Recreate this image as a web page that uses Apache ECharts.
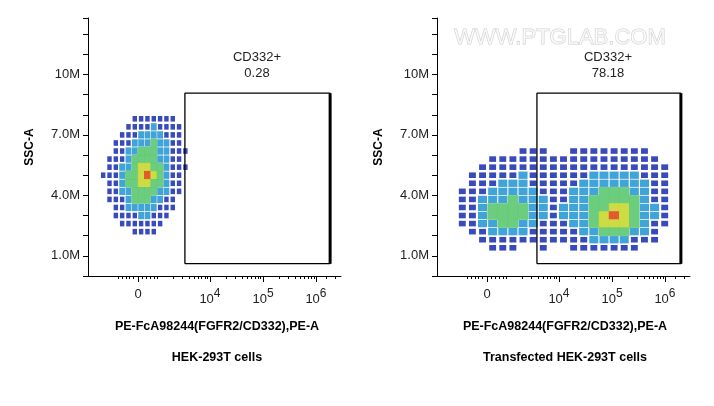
<!DOCTYPE html>
<html><head><meta charset="utf-8">
<script src="https://cdn.jsdelivr.net/npm/echarts@6/dist/echarts.min.js"></script>
<style>html,body{margin:0;padding:0;background:#fff}#c{width:714px;height:406px}</style>
</head><body><div id="c"></div>
<script>
// x axis display units: 0..100 ; decade positions
const xTickLabels = ['0', '10{s|4}', '10{s|5}', '10{s|6}'];
const xTickPos = [19.8, 48.2, 69.2, 90.1];
const yTickLabels = {1: '1.0M', 4: '4.0M', 7: '7.0M', 10: '10M'};
const gateLabels = [['CD332+', '0.28'], ['CD332+', '78.18']];
const gateLeft = [[38.3, 0.61], [38.3, 9.07], [95.7, 9.07], [95.7, 0.61], [38.3, 0.61]];
const gateRight = [[39.5, 0.61], [39.5, 9.07], [96.4, 9.07], [96.4, 0.61], [39.5, 0.61]];

// density grid, left panel
const leftCols = [6, 8.5, 11, 13.5, 16, 18.5, 21, 23.5, 26, 28.5, 31, 33.5, 36, 38.5];
const leftRows = [7.8, 7.4, 7.0, 6.6, 6.2, 5.8, 5.4, 5.0, 4.6, 4.2, 3.8, 3.4, 3.0, 2.6, 2.2];
const leftDensity = [
[0,0,0,0,0,1,1,1,1,1,1,1,0,0],
[0,0,0,0,1,1,1,1,2,1,1,1,1,0],
[0,0,0,1,1,1,2,2,2,2,1,1,1,0],
[0,0,1,1,1,2,2,2,3,2,2,1,1,0],
[0,0,1,1,2,2,3,3,3,2,2,1,1,1],
[0,1,1,1,2,3,3,3,3,2,2,1,1,0],
[0,1,1,2,2,3,4,4,3,3,2,1,1,1],
[1,1,1,2,3,3,4,5,4,3,2,1,1,0],
[0,1,1,2,3,3,4,4,3,3,2,1,1,0],
[0,1,1,2,2,3,3,3,3,2,2,1,1,0],
[0,1,1,1,2,3,3,3,2,2,1,1,0,0],
[0,0,1,1,2,2,2,2,2,1,1,1,0,0],
[0,0,1,1,1,1,2,2,1,1,1,0,0,0],
[0,0,0,1,1,1,1,1,1,1,0,0,0,0],
[0,0,0,0,0,1,1,1,1,0,0,0,0,0]];

// density grid, right panel
const rightCols = [10,14,18,22,26,30,34,38,42,46,50,54,58,62,66,70,74,78,82,86,90,94];
const rightRows = [6.2, 5.8, 5.4, 5.0, 4.6, 4.2, 3.8, 3.4, 3.0, 2.6, 2.2, 1.8, 1.4];
const rightDensity = [
[0,0,0,0,0,0,1,1,1,0,0,1,1,1,1,1,1,1,1,0,0,0],
[0,0,0,1,1,1,1,1,1,1,1,1,1,1,1,1,1,1,1,1,0,0],
[0,0,1,1,1,1,1,1,1,1,1,1,1,1,1,1,1,1,1,1,1,0],
[0,1,1,1,1,1,2,1,1,1,1,1,1,2,2,2,2,2,1,1,1,0],
[0,1,1,1,2,2,2,1,1,1,1,1,2,2,2,2,2,2,2,1,1,0],
[1,1,1,2,2,2,2,2,1,1,1,2,2,2,3,3,3,2,2,1,1,0],
[1,1,2,2,2,3,2,2,2,1,1,2,2,3,3,3,3,3,2,1,1,0],
[1,1,2,3,3,3,3,2,2,1,2,2,2,3,3,4,4,3,2,2,1,0],
[1,1,2,3,3,3,3,2,2,1,2,2,2,3,4,5,4,3,2,2,1,0],
[1,1,2,2,3,3,2,2,1,1,1,2,2,3,4,4,4,3,2,1,1,0],
[0,1,1,2,2,2,2,1,1,1,1,1,2,2,3,3,3,2,2,1,0,0],
[0,0,1,1,1,1,1,1,1,1,1,1,1,2,2,2,2,1,1,1,0,0],
[0,0,0,1,1,1,0,0,1,0,0,1,1,1,1,1,1,1,0,0,0,0]];

const levelColors = ['#ffffff', '#2436b4', '#2c9ad4', '#5cc870', '#c8d830', '#e04818'];
const levelScale = [0, 0.65, 0.85, 1, 1, 1];

function cells(cols, rows, dens) {
  const out = [];
  rows.forEach((y, r) => cols.forEach((x, c) => { if (dens[r][c] > 0) out.push([x, y, dens[r][c]]); }));
  return out;
}
const decade = 21;
const minorTicks = [];
[27.2, 48.2, 69.2].forEach(b => { for (let k = 2; k <= 9; k++) minorTicks.push(+(b + decade * Math.log10(k)).toFixed(2)); });
[12, 13.5, 15, 16.5, 18, 21.5, 23, 24.5, 26, 27.2, 94.3, 97.6].forEach(v => minorTicks.push(v));

const chart = echarts.init(document.getElementById('c'));
const grids = [{left: 88, width: 253, top: 18, height: 258}, {left: 437, width: 253, top: 18, height: 258}];
const font = 'Arial, "Liberation Sans", sans-serif';
const xAxes = [], yAxes = [], series = [];
[0, 1].forEach(i => {
  xAxes.push({gridIndex: i, type: 'value', position: 'bottom', min: 0, max: 100, splitLine: {show: false},
    axisLine: {lineStyle: {color: '#000'}},
    axisTick: {customValues: xTickPos, length: 6, lineStyle: {color: '#000'}},
    axisLabel: {customValues: xTickPos, formatter: v => xTickLabels[xTickPos.indexOf(v)], color: '#222',
      fontFamily: font, fontSize: 13, margin: 12, rich: {s: {fontSize: 12, verticalAlign: 'bottom', padding: [0,0,10,0], fontFamily: font, color: '#222'}}}});
  xAxes.push({gridIndex: i, type: 'value', position: 'bottom', min: 0, max: 100, show: true, splitLine: {show: false},
    axisLine: {show: false}, axisLabel: {show: false},
    axisTick: {customValues: minorTicks, length: 3, lineStyle: {color: '#000'}}});
  yAxes.push({gridIndex: i, type: 'value', min: 0, max: 12.8, interval: 1, splitLine: {show: false},
    name: 'SSC-A', nameLocation: 'middle', nameGap: 52, nameRotate: 90,
    nameTextStyle: {fontWeight: 'bold', fontSize: 12, color: '#000', fontFamily: font},
    axisLine: {lineStyle: {color: '#000'}}, axisTick: {length: 5, lineStyle: {color: '#000'}},
    axisLabel: {formatter: v => yTickLabels[v] || '', color: '#222', fontSize: 13, fontFamily: font, margin: 8}});
  const [cols, rows, dens, gate] = i === 0 ? [leftCols, leftRows, leftDensity, gateLeft] : [rightCols, rightRows, rightDensity, gateRight];
  const w = (cols[1] - cols[0]) * 2.53;
  series.push({type: 'scatter', xAxisIndex: i * 2, yAxisIndex: i, symbol: 'rect',
    symbolSize: v => [(w + 0.5) * levelScale[v[2]], 8.6 * levelScale[v[2]]],
    data: cells(cols, rows, dens), itemStyle: {color: p => levelColors[p.value[2]], opacity: 0.9}, silent: true});
  series.push({type: 'line', xAxisIndex: i * 2, yAxisIndex: i, data: gate, symbol: 'none',
    lineStyle: {color: '#000', width: 1.3}, silent: true});
  series.push({type: 'line', xAxisIndex: i * 2, yAxisIndex: i, data: [gate[2], gate[3]], symbol: 'none',
    lineStyle: {color: '#000', width: 3}, silent: true});
});
const cx = [257, 608];
const graphic = [];
[0, 1].forEach(i => {
  graphic.push({type: 'text', x: cx[i], y: 51, style: {text: gateLabels[i][0], font: '13px ' + font, fill: '#222', align: 'center'}});
  graphic.push({type: 'text', x: cx[i], y: 67, style: {text: gateLabels[i][1], font: '13px ' + font, fill: '#222', align: 'center'}});
});
graphic.push({type: 'text', x: 217, y: 320, style: {text: 'PE-FcA98244(FGFR2/CD332),PE-A', font: 'bold 12.5px ' + font, fill: '#000', align: 'center'}});
graphic.push({type: 'text', x: 565, y: 320, style: {text: 'PE-FcA98244(FGFR2/CD332),PE-A', font: 'bold 12.5px ' + font, fill: '#000', align: 'center'}});
graphic.push({type: 'text', x: 217, y: 351, style: {text: 'HEK-293T cells', font: 'bold 12.5px ' + font, fill: '#000', align: 'center'}});
graphic.push({type: 'text', x: 565, y: 351, style: {text: 'Transfected HEK-293T cells', font: 'bold 12.5px ' + font, fill: '#000', align: 'center'}});
graphic.push({type: 'text', x: 560, y: 27, style: {text: 'WWW.PTGLAB.COM', font: '22px ' + font, fill: 'rgba(255,255,255,0.6)', stroke: 'rgba(150,150,150,0.45)', lineWidth: 1, align: 'center'}});
chart.setOption({animation: false, grid: grids, xAxis: xAxes, yAxis: yAxes, series, graphic});
</script></body></html>
